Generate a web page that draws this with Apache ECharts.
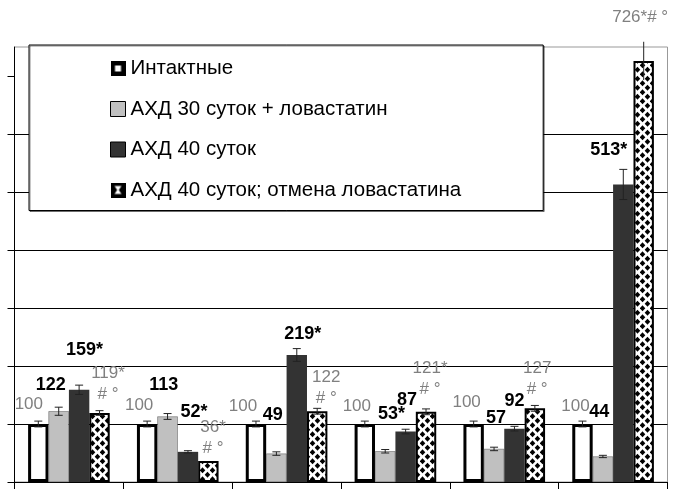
<!DOCTYPE html>
<html>
<head>
<meta charset="utf-8">
<script src="https://cdn.jsdelivr.net/npm/echarts@6/dist/echarts.min.js"></script>
<style>
html,body{margin:0;padding:0;background:#fff;}
#c{width:673px;height:498px;}
</style>
</head>
<body>
<div id="c"></div>
<script>
// ---- data ----
const categories = ['I', 'II', 'III', 'IV', 'V', 'VI'];
const seriesNames = ['Интактные', 'АХД 30 суток + ловастатин', 'АХД 40 суток', 'АХД 40 суток; отмена ловастатина'];
const intactValues = [100, 100, 100, 100, 100, 100];
const lovValues = [122, 113, 49, 53, 57, 44];
const ahd40Values = [159, 52, 219, 87, 92, 513];
const cancelValues = [119, 36, 122, 121, 127, 726];
const intactErr = [5, 5, 5, 5, 5, 5];
const lovErr = [7, 5, 3, 3, 3, 2];
const ahd40Err = [8, 2, 11, 4, 4, 26];
const cancelErr = [4, 0, 5, 5, 5, 33];
const intactLabels = ['100', '100', '100', '100', '100', '100'];
const lovLabels = ['122', '113', '49', '53*', '57', '44'];
const ahd40Labels = ['159*', '52*', '219*', '87', '92', '513*'];
const cancelLabels = ['119*\n# °', '36*\n# °', '122\n# °', '121*\n# °', '127\n# °', '726*# °'];
const yTicks = [0, 100, 200, 300, 400, 500, 600, 700];

// ---- label nudges (layout only) ----
const intactNudge = [[-9.5,-20],[-8,-18.5],[-13,-18],[-8,-17.7],[-7,-22],[-7,-18]];
const lovNudge = [[-8,-26],[-3.7,-31.5],[-3.6,-38.6],[6.2,-37.6],[2,-31],[-3.7,-44.5]];
const ahd40Nudge = [[5.4,-40],[6,-40],[6,-21],[1.5,-32],[0,-27.6],[-14.6,-34]];
const cancelNudge = [[8.5,-29.5],[4.7,-23],[9,-23.7],[4,-33],[2.3,-29.4],[-3.5,-43.8]];

// diamond pattern
function makePattern() {
  const cv = document.createElement('canvas');
  cv.width = 10; cv.height = 9;
  const g = cv.getContext('2d');
  g.fillStyle = '#fff'; g.fillRect(0, 0, 10, 9);
  g.fillStyle = '#000';
  function dia(x, y) {
    g.beginPath();
    g.moveTo(x, y - 2.9); g.lineTo(x + 2.8, y); g.lineTo(x, y + 2.9); g.lineTo(x - 2.8, y); g.closePath(); g.fill();
  }
  dia(2.5, 2.25); dia(7.5, 6.75); dia(7.5, -2.25); dia(-2.5, 6.75); dia(12.5, 6.75); dia(2.5, 11.25); dia(-2.5,-2.25); dia(12.5,-2.25);
  return cv;
}
const pattern = { image: makePattern(), repeat: 'repeat' };

function iconIntact() {
  const cv = document.createElement('canvas'); cv.width = 15; cv.height = 15;
  const g = cv.getContext('2d');
  g.fillStyle = '#000'; g.fillRect(0, 0, 15, 15);
  g.fillStyle = '#fff'; g.fillRect(4.5, 4.5, 6, 6);
  return 'image://' + cv.toDataURL();
}
function iconCancel() {
  const cv = document.createElement('canvas'); cv.width = 15; cv.height = 15;
  const g = cv.getContext('2d');
  g.fillStyle = '#000'; g.fillRect(0, 0, 15, 15);
  g.fillStyle = '#fff';
  g.beginPath();
  g.moveTo(4, 3.5); g.lineTo(11, 3.5); g.lineTo(8.3, 7.5); g.lineTo(11, 11.5); g.lineTo(4, 11.5); g.lineTo(6.7, 7.5); g.closePath(); g.fill();
  return 'image://' + cv.toDataURL();
}

const grayLabel = { color: '#808080', fontSize: 17, fontWeight: 'normal', fontFamily: 'Liberation Sans', lineHeight: 21 };
const boldLabel = { color: '#000', fontSize: 18, fontWeight: 'bold', fontFamily: 'Liberation Sans', lineHeight: 21 };

function barData(values, labels, nudges, style) {
  return values.map((v, i) => ({
    value: v,
    label: Object.assign({
      show: true, position: 'top', distance: 0, align: 'center', verticalAlign: 'middle',
      offset: nudges[i], formatter: labels[i]
    }, style)
  }));
}

const allValues = [intactValues, lovValues, ahd40Values, cancelValues];
const allErr = [intactErr, lovErr, ahd40Err, cancelErr];
const errData = [];
allValues.forEach((arr, s) => arr.forEach((v, i) => { if (allErr[s][i] > 0) errData.push([i, v, allErr[s][i], s]); }));

const chart = echarts.init(document.getElementById('c'), null, { renderer: 'canvas' });
const option = {
  backgroundColor: '#fff',
  animation: false,
  grid: { left: 14.5, right: 5.5, top: 47, bottom: 16, show: true, borderColor: '#999', borderWidth: 1, backgroundColor: 'transparent' },
  legend: {
    orient: 'vertical', left: 29, top: 45,
    padding: [13, 82, 10, 81],
    itemWidth: 15, itemHeight: 15, itemGap: 19.5,
    backgroundColor: '#fff', borderColor: '#000', borderWidth: 1,
    shadowColor: 'rgba(0,0,0,0.45)', shadowOffsetX: 1, shadowOffsetY: 1, shadowBlur: 0,
    selectedMode: false,
    textStyle: { fontSize: 20.5, fontFamily: 'Liberation Sans', color: '#000' },
    data: [
      { name: seriesNames[0], icon: iconIntact() },
      { name: seriesNames[1], icon: 'rect', itemStyle: { color: '#c0c0c0', borderColor: '#000', borderWidth: 1 } },
      { name: seriesNames[2], icon: 'rect', itemStyle: { color: '#333', borderColor: '#000', borderWidth: 1 } },
      { name: seriesNames[3], icon: iconCancel() }
    ],
    z: 10
  },
  xAxis: {
    type: 'category', data: categories,
    axisLine: { show: true, lineStyle: { color: '#000', width: 1 } },
    axisTick: { show: true, inside: false, length: 7, alignWithLabel: false, lineStyle: { color: '#000' } },
    axisLabel: { show: false },
    splitLine: { show: false }
  },
  yAxis: {
    type: 'value', min: 0, max: 750, interval: 100,
    axisLine: { show: true, lineStyle: { color: '#000', width: 1 } },
    axisTick: { show: true, inside: false, length: 7, lineStyle: { color: '#000' }, customValues: yTicks },
    axisLabel: { show: false },
    splitLine: { show: true, showMinLine: false, showMaxLine: false, lineStyle: { color: '#000', width: 1 } }
  },
  series: [
    { name: seriesNames[0], type: 'bar', barGap: '0%', barCategoryGap: '25%',
      itemStyle: { color: '#fff', borderColor: '#000', borderWidth: 3 },
      data: barData(intactValues, intactLabels, intactNudge, grayLabel), z: 2 },
    { name: seriesNames[1], type: 'bar', barGap: '0%', barCategoryGap: '25%',
      itemStyle: { color: '#c0c0c0', borderColor: '#555', borderWidth: 0.5 },
      data: barData(lovValues, lovLabels, lovNudge, boldLabel), z: 2 },
    { name: seriesNames[2], type: 'bar', barGap: '0%', barCategoryGap: '25%',
      itemStyle: { color: '#333333' },
      data: barData(ahd40Values, ahd40Labels, ahd40Nudge, boldLabel), z: 2 },
    { name: seriesNames[3], type: 'bar', barGap: '0%', barCategoryGap: '25%',
      itemStyle: { color: pattern, borderColor: '#000', borderWidth: 2 },
      data: barData(cancelValues, cancelLabels, cancelNudge, grayLabel), z: 2 },
    { name: 'err', type: 'custom', z: 5, silent: true,
      data: errData,
      renderItem: function (params, api) {
        const ci = api.value(0), v = api.value(1), e = api.value(2), s = api.value(3);
        const bw = api.size([1, 0])[0] * 0.75 / 4;
        const base = api.coord([ci, v]);
        const cx = base[0] + (s - 1.5) * bw;
        const yt = api.coord([ci, v + e])[1];
        const yb = api.coord([ci, v - e])[1];
        const cap = 4;
        const st = { stroke: '#222', lineWidth: 1 };
        const children = [
          { type: 'line', shape: { x1: cx, y1: yt, x2: cx, y2: yb }, style: st }
        ];
        if (e < 30) {
          children.push({ type: 'line', shape: { x1: cx - cap, y1: yt, x2: cx + cap, y2: yt }, style: st });
          children.push({ type: 'line', shape: { x1: cx - cap, y1: yb, x2: cx + cap, y2: yb }, style: st });
        }
        return { type: 'group', children: children };
      }
    }
  ]
};
chart.setOption(option);
</script>
</body>
</html>
